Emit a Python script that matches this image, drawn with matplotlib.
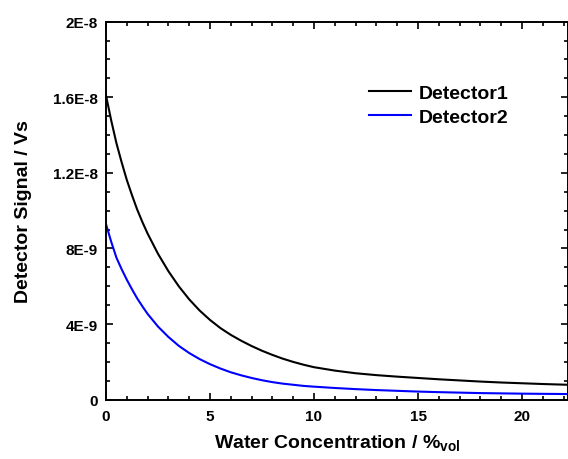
import matplotlib
matplotlib.use("Agg")
import matplotlib.pyplot as plt
from matplotlib.ticker import MultipleLocator

# values
conc = [0, 0.25, 0.5, 0.75, 1.0, 1.25, 1.5, 1.75, 2.0, 2.5, 3.0, 3.5, 4.0,
        4.5, 5.0, 5.5, 6.0, 6.5, 7.0, 7.5, 8.0, 8.5, 9.0, 9.5, 10.0, 11.0,
        12.0, 13.0, 14.0, 15.0, 16.0, 17.0, 18.0, 19.0, 20.0, 21.0, 22.2]
det1 = [1.61e-8, 1.478e-8, 1.358e-8, 1.257e-8, 1.163e-8, 1.082e-8, 1.006e-8,
        9.40e-9, 8.79e-9, 7.72e-9, 6.80e-9, 6.00e-9, 5.31e-9, 4.72e-9,
        4.22e-9, 3.79e-9, 3.43e-9, 3.12e-9, 2.84e-9, 2.59e-9, 2.37e-9,
        2.17e-9, 2.00e-9, 1.85e-9, 1.72e-9, 1.54e-9, 1.40e-9, 1.30e-9,
        1.22e-9, 1.15e-9, 1.08e-9, 1.02e-9, 0.96e-9, 0.91e-9, 0.87e-9,
        0.83e-9, 0.79e-9]
det2 = [9.29e-9, 8.36e-9, 7.52e-9, 6.91e-9, 6.35e-9, 5.84e-9, 5.36e-9,
        4.94e-9, 4.54e-9, 3.87e-9, 3.32e-9, 2.85e-9, 2.47e-9, 2.15e-9,
        1.88e-9, 1.65e-9, 1.45e-9, 1.29e-9, 1.15e-9, 1.03e-9, 0.93e-9,
        0.85e-9, 0.79e-9, 0.73e-9, 0.69e-9, 0.62e-9, 0.56e-9, 0.51e-9,
        0.47e-9, 0.43e-9, 0.40e-9, 0.375e-9, 0.35e-9, 0.335e-9, 0.32e-9,
        0.31e-9, 0.30e-9]

xticks = [0, 5, 10, 15, 20]
yticks = [0, 4e-9, 8e-9, 1.2e-8, 1.6e-8, 2e-8]
ylabels = ["0", "4E-9", "8E-9", "1.2E-8", "1.6E-8", "2E-8"]

plt.rcParams["font.family"] = ["Liberation Sans", "DejaVu Sans"]
plt.rcParams["font.weight"] = "bold"
plt.rcParams["mathtext.fontset"] = "custom"
plt.rcParams["mathtext.rm"] = "Liberation Sans"
plt.rcParams["mathtext.bf"] = "Liberation Sans:bold"

fig = plt.figure(figsize=(5.68, 4.6), dpi=100)
ax = fig.add_axes([0.1866, 0.1289, 0.813, 0.8218])

ax.plot(conc, det1, color="black", lw=1.5, label="Detector1")
ax.plot(conc, det2, color="#0000ff", lw=1.5, label="Detector2")

ax.set_xlim(0, 22.2)
ax.set_ylim(0, 2e-8)
ax.set_xticks(xticks)
ax.set_xticklabels([str(t) for t in xticks])
ax.set_yticks(yticks)
ax.set_yticklabels(ylabels)
ax.xaxis.set_minor_locator(MultipleLocator(1))
ax.yaxis.set_minor_locator(MultipleLocator(1e-9))

ax.tick_params(which="both", direction="in", top=True, right=True,
               color="black", width=1.2)
ax.tick_params(which="major", length=5, labelsize=11)
ax.tick_params(which="minor", length=3)
ax.tick_params(axis="y", which="major", pad=6)
ax.tick_params(axis="x", which="major", pad=7)
for s in ax.spines.values():
    s.set_linewidth(1.4)

ax.set_xlabel(r"Water Concentration / %$_{\mathbf{vol}}$", fontsize=14,
              fontweight="bold", labelpad=7)
ax.set_ylabel("Detector Signal / Vs", fontsize=14, fontweight="bold")
ax.yaxis.set_label_coords(-0.16, 0.5)

leg = ax.legend(loc="upper left", bbox_to_anchor=(0.531, 0.88), frameon=False,
                fontsize=14, handlelength=2.2, handletextpad=0.35,
                labelspacing=0.3)

fig.savefig("out.png", dpi=100)
